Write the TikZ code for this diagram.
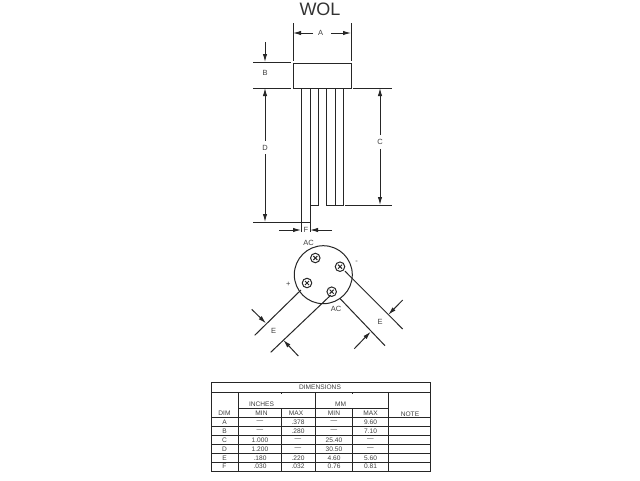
\documentclass[tikz,border=0pt]{standalone}
\usepackage{fontspec}
\setmainfont{Liberation Sans}
\usetikzlibrary{arrows.meta}
\tikzset{
  ln/.style={draw=black!85,line width=1pt},
  dimln/.style={ln,-{Latex[length=8pt,width=4.4pt]}},
  lab/.style={inner sep=0pt,text=black!75,font=\fontsize{7.5}{8}\selectfont},
  sm/.style={inner sep=0pt,text=black!75,font=\fontsize{6.6}{8}\selectfont},
  tb/.style={draw=black!85,line width=0.9pt},
  pinhole/.style={circle,draw=black!85,line width=1pt,minimum size=9.5pt,inner sep=0pt,
    path picture={\draw[line width=1pt,black!85] ([xshift=-2pt,yshift=-2pt]path picture bounding box.center)--([xshift=2pt,yshift=2pt]path picture bounding box.center) ([xshift=-2pt,yshift=2pt]path picture bounding box.center)--([xshift=2pt,yshift=-2pt]path picture bounding box.center);}}
}
\begin{document}
\begin{tikzpicture}[x=1pt,y=-1pt]
\path[fill=white] (0,0) rectangle (640,480);
\useasboundingbox (0,0) rectangle (640,480);
\node[inner sep=0pt,text=black!80,font=\fontsize{18}{20}\selectfont] (title) at (320,9) {WOL};

% body and pins
\draw[ln] (293,63) rectangle (351,88);
\draw[ln] (301,88)--(301,232) (310,88)--(310,232);
\draw[ln] (310,205)--(318.3,205)--(318.3,88);
\draw[ln] (326.3,88)--(326.3,205)--(343.3,205)--(343.3,88) (335,88)--(335,205);

% extension lines
\draw[ln] (293,23)--(293,61) (351,23)--(351,61);
\draw[ln] (253,62)--(291,62) (253,88)--(291,88) (353,88)--(392,88);
\draw[ln] (253,222)--(310,222) (345,205)--(392,205);

% dimension labels and arrows
\node[lab] (dA) at (320.5,32.5) {A};
\node[lab] (dB) at (265,73) {B};
\node[lab] (dC) at (380,142) {C};
\node[lab] (dD) at (265,147.5) {D};
\node[lab] (dF) at (306,230) {F};
\coordinate (a1) at (293,33); \coordinate (a2) at (351,33);
\coordinate (b1) at (265,62); \coordinate (b2) at (265,88);
\coordinate (d2) at (265,222);
\coordinate (c1) at (380,88); \coordinate (c2) at (380,205);
\coordinate (f1) at (301,230); \coordinate (f2) at (310,230);
\draw[dimln] (313,33)--(a1);
\draw[dimln] (331,33)--(a2);
\draw[dimln] (265,42)--(b1);
\draw[dimln] (dD.north)++(0,-4)--(b2);
\draw[dimln] (dD.south)++(0,4)--(d2);
\draw[dimln] (dC.north)++(0,-4)--(c1);
\draw[dimln] (dC.south)++(0,4)--(c2);
\draw[dimln] (279,230)--(f1);
\draw[dimln] (332,230)--(f2);

% bottom view
\node[circle,draw=black!85,line width=1pt,minimum size=58pt,inner sep=0pt] (can) at (323.3,274.7) {};
\node[pinhole] (p1) at (315.3,258) {};
\node[pinhole] (p2) at (340,266.7) {};
\node[pinhole] (p3) at (307,283) {};
\node[pinhole] (p4) at (331.7,291.7) {};
\node[lab] (acT) at (308.5,243) {AC};
\node[lab] (acB) at (336,308.5) {AC};
\node[lab] (plus) at (288.3,284.3) {+};
\node[lab] (minus) at (356.7,262) {-};
\node[lab] (e1) at (273.7,331) {E};
\node[lab] (e2) at (380,321.7) {E};
\coordinate (l1) at (254.7,335.3);
\coordinate (l2) at (270.7,352.3);
\coordinate (l3) at (385,345.7);
\coordinate (l4) at (402.7,329);
\draw[ln] (p3)++(-6,7)--(l1);
\draw[ln] (p4)++(-1,3.5)--(l2);
\draw[ln] (p4)++(8,6.5)--(l3);
\draw[ln] (p2)++(5,4.5)--(l4);
\draw[dimln] (251.7,309.3)--(266,323.3);
\draw[dimln] (298.3,356)--(283.3,340);
\draw[dimln] (354.3,348.7)--(370.7,331.7);
\draw[dimln] (402.7,300)--(388.3,314.7);

% table
\draw[tb] (211,382.3) rectangle (430,471);
\draw[tb] (211,392)--(430,392);
\draw[tb] (238,408.7)--(388.3,408.7);
\foreach \y in {417.5,426.5,435.4,444.4,453.3,462.2} \draw[tb] (211,\y)--(430,\y);
\foreach \x in {238,315.3,388.3} \draw[tb] (\x,392)--(\x,471);
\foreach \x in {281,352.3} {\draw[tb] (\x,408.7)--(\x,471); \draw[tb] (\x,392)--(\x,393.5);}
\node[sm] (t0) at (320,387.2) {DIMENSIONS};
\node[sm] (t1) at (261.5,404.7) {INCHES};
\node[sm] (t2) at (340.5,404.7) {MM};
\node[sm] (t3) at (224.5,413) {DIM};
\node[sm] (t4) at (261.5,413) {MIN};
\node[sm] (t5) at (296,413) {MAX};
\node[sm] (t6) at (334,413) {MIN};
\node[sm] (t7) at (370.5,413) {MAX};
\node[sm] (t8) at (410,414) {NOTE};
\foreach \yy/\a/\b/\c/\d/\e in {422/A/---/.378/---/9.60,431/B/---/.280/---/7.10,440/C/1.000/---/25.40/---,449/D/1.200/---/30.50/---,458/E/.180/.220/4.60/5.60,466.6/F/.030/.032/0.76/0.81}{
  \node[sm] at (224.5,\yy) {\a};
  \node[sm] at (260,\yy) {\b};
  \node[sm] at (298,\yy) {\c};
  \node[sm] at (334,\yy) {\d};
  \node[sm] at (370.5,\yy) {\e};
}
\end{tikzpicture}
\end{document}
